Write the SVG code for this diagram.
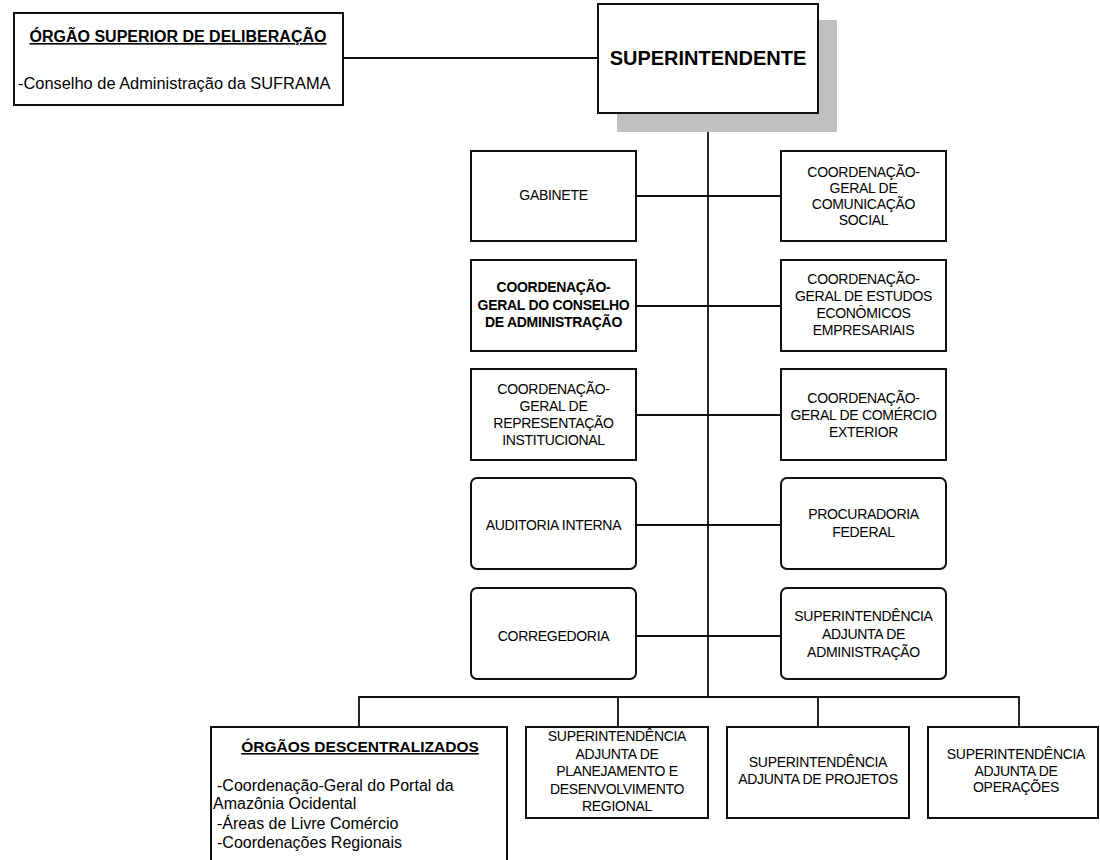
<svg xmlns="http://www.w3.org/2000/svg" width="1100" height="860" viewBox="0 0 1100 860">
<style>
.box{fill:#fff;stroke:#111;stroke-width:2}
.ln{fill:none;stroke:#111;stroke-width:1.8}
text{font-family:"Liberation Sans",Arial,sans-serif;fill:#000}
.c{font-size:14px;text-anchor:middle;letter-spacing:-0.3px}
.cb{font-size:14px;text-anchor:middle;font-weight:bold;letter-spacing:-0.3px}
.t{font-size:16px;font-weight:bold;text-decoration:underline;text-anchor:middle}
.l{font-size:16px}
</style>
<rect width="1100" height="860" fill="#fff"/>
<g id="connectors">
<path class="ln" d="M343 58H598"/>
<path class="ln" d="M708 132V697"/>
<path class="ln" d="M636 196H781M636 306H781M636 415H781M636 525H781M636 636H781"/>
<path class="ln" d="M359 727V697H1019V727M618 697V727M818 697V727"/>
</g>
<g id="orgao-superior">
<rect class="box" x="14" y="13" width="329" height="92"/>
<text class="t" x="178" y="42">ÓRGÃO SUPERIOR DE DELIBERAÇÃO</text>
<text class="l" x="18" y="89" style="font-size:16.4px">-Conselho de Administração da SUFRAMA</text>
</g>
<g id="superintendente">
<rect x="617" y="20" width="220" height="112" fill="#c0c0c0"/>
<rect class="box" x="598" y="4" width="220" height="109"/>
<text x="708" y="65" style="font-size:20px;font-weight:bold;text-anchor:middle">SUPERINTENDENTE</text>
</g>
<g id="gabinete">
<rect class="box" x="471" y="151" width="165" height="90"/>
<text class="c" x="553.5" y="200">GABINETE</text>
</g>
<g id="cg-comunicacao">
<rect class="box" x="781" y="151" width="165" height="90"/>
<text class="c" x="863.5" y="177">COORDENAÇÃO-</text>
<text class="c" x="863.5" y="193">GERAL DE</text>
<text class="c" x="863.5" y="209">COMUNICAÇÃO</text>
<text class="c" x="863.5" y="225">SOCIAL</text>
</g>
<g id="cg-conselho">
<rect class="box" x="471" y="260" width="165" height="91"/>
<text class="cb" x="553.5" y="292">COORDENAÇÃO-</text>
<text class="cb" x="553.5" y="310">GERAL DO CONSELHO</text>
<text class="cb" x="553.5" y="327">DE ADMINISTRAÇÃO</text>
</g>
<g id="cg-estudos">
<rect class="box" x="781" y="260" width="165" height="91"/>
<text class="c" x="863.5" y="284">COORDENAÇÃO-</text>
<text class="c" x="863.5" y="301">GERAL DE ESTUDOS</text>
<text class="c" x="863.5" y="318">ECONÔMICOS</text>
<text class="c" x="863.5" y="335">EMPRESARIAIS</text>
</g>
<g id="cg-representacao">
<rect class="box" x="471" y="369" width="165" height="91"/>
<text class="c" x="553.5" y="394">COORDENAÇÃO-</text>
<text class="c" x="553.5" y="411">GERAL DE</text>
<text class="c" x="553.5" y="428">REPRESENTAÇÃO</text>
<text class="c" x="553.5" y="445">INSTITUCIONAL</text>
</g>
<g id="cg-comercio">
<rect class="box" x="781" y="369" width="165" height="91"/>
<text class="c" x="863.5" y="403">COORDENAÇÃO-</text>
<text class="c" x="863.5" y="420">GERAL DE COMÉRCIO</text>
<text class="c" x="863.5" y="437">EXTERIOR</text>
</g>
<g id="auditoria">
<rect class="box" x="471" y="478" width="165" height="91" rx="6"/>
<text class="c" x="553.5" y="530">AUDITORIA INTERNA</text>
</g>
<g id="procuradoria">
<rect class="box" x="781" y="478" width="165" height="91" rx="6"/>
<text class="c" x="863.5" y="519">PROCURADORIA</text>
<text class="c" x="863.5" y="537">FEDERAL</text>
</g>
<g id="corregedoria">
<rect class="box" x="471" y="588" width="165" height="91" rx="6"/>
<text class="c" x="553.5" y="641">CORREGEDORIA</text>
</g>
<g id="sa-administracao">
<rect class="box" x="781" y="588" width="165" height="91" rx="6"/>
<text class="c" x="863.5" y="621">SUPERINTENDÊNCIA</text>
<text class="c" x="863.5" y="639">ADJUNTA DE</text>
<text class="c" x="863.5" y="657">ADMINISTRAÇÃO</text>
</g>
<g id="orgaos-descentralizados">
<rect class="box" x="211" y="727" width="296" height="150"/>
<text class="t" x="360" y="752" style="font-size:15.5px">ÓRGÃOS DESCENTRALIZADOS</text>
<text class="l" x="217" y="791">-Coordenação-Geral do Portal da</text>
<text class="l" x="213" y="809">Amazônia Ocidental</text>
<text class="l" x="217" y="829">-Áreas de Livre Comércio</text>
<text class="l" x="217" y="848">-Coordenações Regionais</text>
</g>
<g id="sa-planejamento">
<rect class="box" x="526" y="727" width="182" height="91"/>
<text class="c" x="617" y="741">SUPERINTENDÊNCIA</text>
<text class="c" x="617" y="759">ADJUNTA DE</text>
<text class="c" x="617" y="776">PLANEJAMENTO E</text>
<text class="c" x="617" y="794">DESENVOLVIMENTO</text>
<text class="c" x="617" y="811">REGIONAL</text>
</g>
<g id="sa-projetos">
<rect class="box" x="727" y="727" width="182" height="91"/>
<text class="c" x="818" y="767">SUPERINTENDÊNCIA</text>
<text class="c" x="818" y="784">ADJUNTA DE PROJETOS</text>
</g>
<g id="sa-operacoes">
<rect class="box" x="928" y="727" width="170" height="91"/>
<text class="c" x="1016" y="759">SUPERINTENDÊNCIA</text>
<text class="c" x="1016" y="776">ADJUNTA DE</text>
<text class="c" x="1016" y="792">OPERAÇÕES</text>
</g>
</svg>
